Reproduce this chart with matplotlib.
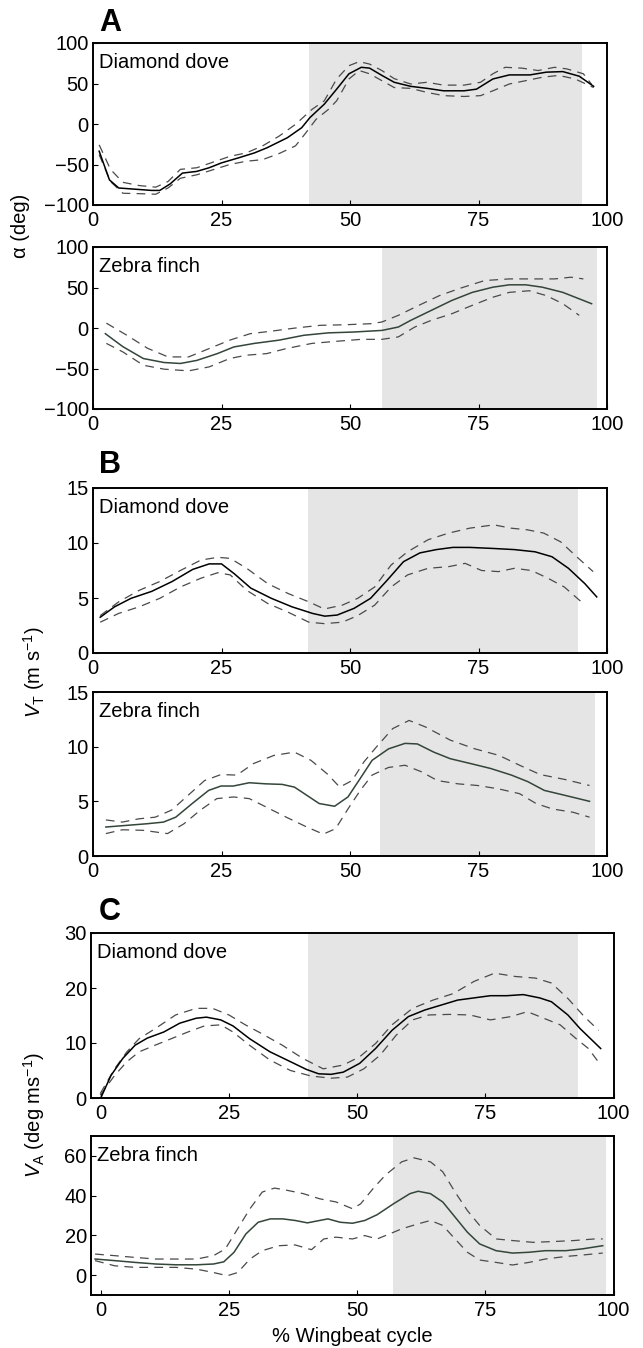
import matplotlib
matplotlib.use("Agg")
import matplotlib.pyplot as plt

plt.rcParams['font.family'] = ['Liberation Sans', 'DejaVu Sans']
plt.rcParams['mathtext.fontset'] = 'custom'
plt.rcParams['mathtext.rm'] = 'Liberation Sans'
plt.rcParams['mathtext.it'] = 'Liberation Sans:italic'

# ---- A: angle of attack (deg) ----
# Diamond dove
a_dd_x_mean = [1.2, 3.2, 5, 8.2, 11.4, 13, 15, 17.4, 20.2, 22.6, 25, 28.2, 31.4, 33.8, 37.8, 40.6, 42.2, 45,
               47.4, 49.8, 52.2, 53.8, 56.2, 58.6, 61.8, 65, 68.2, 72.2, 74.6, 77.8, 81, 85, 88.2, 91.4, 94.6, 97.4]
a_dd_mean = [-33.6, -69, -79, -80.5, -82, -82, -74, -60.6, -58.5, -54, -48, -42, -35.7, -29.5, -17, -4.6, 7.9, 24.5,
             43, 62, 70, 69, 60, 51.5, 46.5, 44, 41, 41, 43, 55.6, 60.6, 60.6, 64, 64.7, 59, 46.5]
a_dd_x_up = [1.2, 3.4, 5.8, 9, 12.2, 14.6, 17, 20.2, 23.4, 26.6, 29.8, 33, 36.2, 39.4, 42.6, 45, 47.4, 49.8,
             51.8, 53.8, 56.2, 58.6, 61.8, 65, 68.2, 72.2, 75.4, 77.8, 80.2, 83.4, 86.6, 89.8, 92.2, 95.4, 97]
a_dd_up = [-25.7, -56, -72, -76, -78, -71, -56, -54, -47, -40, -35.7, -27, -15, -0.4, 18, 28.6, 55.6, 72,
           77, 74, 66, 56, 49.4, 51.5, 48, 48, 51.5, 62, 70, 69, 66, 70, 68, 62, 49]
a_dd_x_lo = [1.2, 3.4, 5.8, 9, 12.2, 14.6, 17, 20.2, 23.4, 26.6, 29.8, 33, 36.2, 39.4, 41.4, 43.4, 45.8, 47.4,
             49.8, 51.8, 53.8, 56.2, 58.6, 61.8, 65, 68.2, 72.2, 75.4, 77.8, 81, 84.2, 87.4, 90.6, 93.8, 97.4]
a_dd_lo = [-37.8, -71, -85.5, -86, -86.7, -79, -67, -62.7, -56.4, -50, -46, -44, -36.5, -27, -11, 5.8, 18, 28.6,
           55.6, 66, 62, 53.5, 45, 44, 39, 35, 34, 35, 41, 49.4, 53.5, 57.7, 60, 55.6, 45]
# Zebra finch
a_zf_x_mean = [2.4, 5.8, 9.8, 13.8, 17, 20.2, 24.2, 27.4, 31.4, 36.2, 41, 45.8, 50.6, 56.2, 59.4, 61.8,
               65.8, 69.8, 73.8, 77.8, 81, 84.2, 87.4, 91.4, 95.4, 97]
a_zf_mean = [-7, -23, -37.7, -42.6, -43.8, -40, -31.6, -23.4, -19, -15, -9, -6, -5, -3, 1.2, 9.4,
             21.7, 34, 44, 50.4, 53.3, 53.3, 50.4, 44, 34, 30]
a_zf_x_up = [2.6, 6.6, 10.6, 14.6, 18.6, 22.6, 26.6, 30.6, 34.6, 39.4, 44.2, 49, 54, 56.2, 59.4, 63.4,
             67.4, 71.4, 76.2, 81, 85.8, 89.8, 93, 95.4]
a_zf_up = [6, -9, -25, -35.7, -35.7, -25.4, -15, -7, -4, 0, 3.3, 4, 5.3, 7.4, 15.6, 28,
           40, 49, 58.6, 60.6, 60.6, 60.6, 62.7, 60.6]
a_zf_x_lo = [2.6, 5.8, 9.8, 13.8, 18.6, 22.6, 26.6, 29.8, 33.8, 37.6, 42.6, 47.4, 52.2, 56.2, 59.4, 62.6,
             65.8, 69.8, 73.8, 77.8, 81, 84.9, 88.2, 91.4, 94.6]
a_zf_lo = [-19, -29.5, -46, -50.8, -52.9, -48, -37.7, -33.6, -31.6, -25.4, -19, -16.4, -14, -14, -11, 1.2,
           9.4, 17.6, 28, 38, 44, 46, 40, 30, 15.6]

# ---- B: wingtip velocity (m/s) ----
b_dd_x_mean = [1.4, 4.2, 7.4, 11.4, 15.4, 19.4, 22.6, 25, 27.5, 30.7, 34.7, 38.7, 42.7, 45.1, 47.5, 50.8, 54,
               57.2, 60.4, 63.6, 66.8, 70, 73.3, 78, 82, 86, 89.3, 92.5, 95.7, 98]
b_dd_mean = [3.25, 4.2, 4.97, 5.6, 6.5, 7.6, 8.1, 8.1, 7.2, 5.9, 4.97, 4.2, 3.6, 3.35, 3.45, 4.06, 4.97,
             6.6, 8.3, 9.1, 9.4, 9.6, 9.6, 9.5, 9.4, 9.2, 8.75, 7.7, 6.3, 5.1]
b_dd_x_up = [1.4, 5, 9, 13, 17, 21, 24.3, 26.7, 29.9, 34, 38, 42, 45, 48.5, 51.5, 54.8, 58, 61.2, 65.2,
             69.2, 73.3, 78, 81.3, 84.5, 87.7, 91, 94.1, 97.3]
b_dd_up = [3.4, 4.65, 5.7, 6.5, 7.5, 8.45, 8.7, 8.6, 7.7, 6.3, 5.4, 4.65, 4.0, 4.35, 4.97, 6.0, 8.0, 9.2, 10.3,
           10.9, 11.35, 11.65, 11.35, 11.2, 10.9, 10.1, 8.75, 7.4]
b_dd_x_lo = [1.4, 5, 9, 13, 17, 21, 24.3, 26.7, 29.9, 34, 38, 42, 45, 48.5, 51.5, 54.8, 58, 61.2, 65.2,
             69.2, 72.4, 75.6, 78.9, 82, 85.3, 88.5, 91.7, 95]
b_dd_lo = [2.8, 3.6, 4.2, 4.97, 6.0, 6.8, 7.3, 7.1, 5.7, 4.5, 3.7, 2.8, 2.67, 2.8, 3.4, 4.35, 6.0, 7.1, 7.7,
           7.85, 8.15, 7.5, 7.4, 7.7, 7.5, 6.8, 6.0, 4.65]
b_zf_x_mean = [2.5, 6.5, 10.5, 13.7, 16.1, 19.3, 22.5, 24.9, 27.3, 30.4, 33.6, 36.8, 39.2, 41.6, 44, 47, 49.6,
               52, 54.3, 57.5, 60.7, 63.1, 66.3, 69.5, 73.5, 77.4, 81.4, 84.6, 87.8, 91.8, 96.6]
b_zf_mean = [2.65, 2.8, 2.95, 3.1, 3.55, 4.8, 6.0, 6.4, 6.4, 6.7, 6.6, 6.55, 6.3, 5.55, 4.8, 4.55, 5.4,
             7.1, 8.75, 9.8, 10.3, 10.25, 9.5, 8.9, 8.45, 8.0, 7.4, 6.8, 6.0, 5.55, 5.0]
b_zf_x_up = [2.5, 5.7, 8.9, 12.1, 15.3, 18.5, 21.7, 24.9, 28, 31.2, 35.2, 39.2, 42.4, 45.6, 48, 50.4, 52.7,
             55.1, 58.3, 61.5, 64.7, 69.5, 74.3, 79, 83, 87, 91.8, 96.6]
b_zf_up = [3.3, 3.1, 3.4, 3.55, 4.2, 5.55, 6.9, 7.45, 7.4, 8.45, 9.2, 9.5, 8.75, 7.5, 6.3, 6.9, 8.6,
           9.95, 11.65, 12.4, 11.8, 10.6, 9.8, 9.2, 8.3, 7.45, 7.0, 6.45]
b_zf_x_lo = [2.5, 5.7, 9.7, 14.5, 17.7, 20.9, 24.1, 27.3, 30.4, 33.6, 37.6, 41.6, 44.8, 47.2, 49.6, 52, 54.3,
             57.5, 60.7, 63.9, 67, 71, 74.8, 78.8, 83, 86.2, 89.4, 93.4, 96.6]
b_zf_lo = [2.05, 2.4, 2.35, 2.05, 2.95, 4.2, 5.25, 5.4, 5.25, 4.5, 3.55, 2.65, 2.0, 2.5, 4.3, 6.0, 7.4,
           8.1, 8.3, 7.7, 6.9, 6.6, 6.45, 6.15, 5.7, 4.8, 4.3, 4.0, 3.55]

# ---- C: angular velocity (deg/ms) ----
c_dd_x_mean = [0, 2, 4.3, 6.7, 9.1, 12.3, 15.4, 18.6, 20.6, 23.4, 25.8, 29, 33, 37, 40.1, 42.5, 44.9, 47.3,
               50.5, 53.6, 56.8, 60, 63.2, 66.4, 69.6, 72.8, 76, 79.2, 82.4, 85.6, 87.9, 91.1, 93.5, 97.5]
c_dd_mean = [0, 4.1, 7.2, 9.6, 10.9, 12.0, 13.6, 14.5, 14.7, 14.2, 13.1, 10.8, 8.4, 6.6, 5.2, 4.4, 4.3, 4.7,
             6.3, 9.0, 12.3, 14.8, 16.0, 16.9, 17.8, 18.2, 18.6, 18.6, 18.8, 18.2, 17.5, 15.1, 12.6, 9.0]
c_dd_x_up = [-0.1, 2.7, 5.1, 7.5, 10.6, 14.6, 18.6, 21.8, 25, 28.2, 31.4, 35.4, 39.4, 43.4, 47.3, 50.5, 53.6,
             56.8, 60.8, 64.8, 68.8, 72.8, 76.8, 80.8, 84.8, 87.9, 91.1, 94.3, 97.1]
c_dd_up = [0.8, 5.3, 8.4, 10.8, 12.6, 15.1, 16.3, 16.3, 15.1, 13.3, 11.7, 9.6, 7.2, 5.3, 6.0, 7.5, 9.9,
           13.3, 16.3, 17.8, 19.0, 21.2, 22.7, 22.1, 21.8, 20.9, 18.1, 14.8, 12.3]
c_dd_x_lo = [-0.1, 2.7, 5.1, 7.5, 10.6, 13.8, 17, 20.2, 23.4, 25.8, 29, 33, 37, 41, 44.9, 48.1, 51.3, 54.5,
             57.6, 60.8, 64, 68, 72, 76, 80, 83.2, 86.4, 89.6, 92.7, 95.1, 97.5]
c_dd_lo = [0.5, 4.1, 6.6, 8.4, 9.6, 10.8, 12.0, 13.1, 13.3, 12.0, 9.6, 6.9, 5.0, 4.0, 3.6, 3.8, 5.3, 7.8,
           11.4, 14.2, 15.1, 15.2, 15.1, 14.2, 14.8, 15.7, 14.5, 13.3, 10.8, 9.0, 6.0]
c_zf_x_mean = [-1.1, 2.7, 6.7, 10.7, 14.7, 18.7, 22, 24, 26, 28.3, 30.7, 33.1, 35.5, 37.9, 40.3, 42.7, 44.3,
               46.7, 49.1, 51.5, 53.9, 57.1, 60.3, 61.9, 64.3, 66.7, 69.1, 71.5, 73.9, 77.1, 80.3, 83.5,
               86.7, 90.7, 93.9, 97.9]
c_zf_mean = [8.1, 7.3, 6.4, 5.6, 5.2, 5.2, 5.6, 6.7, 11.5, 20.7, 26.6, 28.3, 28.3, 27.5, 26.3, 27.5, 28.3,
             26.6, 26.1, 27.5, 30.4, 35.9, 41, 42.2, 41, 36.8, 29.2, 21.6, 15.7, 12.3, 11.1, 11.5,
             12.3, 12.3, 13.2, 14.8]
c_zf_x_up = [-1.1, 2.7, 6.7, 10.7, 14.7, 18.7, 22, 24.3, 26.7, 29.1, 31.5, 33.9, 36.3, 39.5, 42.7, 45.9, 49.1,
             50.7, 53.1, 55.5, 58.7, 61.1, 64.3, 66.7, 69.1, 71.5, 73.9, 77.1, 80.3, 84.3, 88.3, 92.3,
             96.3, 97.9]
c_zf_up = [10.6, 9.8, 8.9, 8.1, 8.1, 8.1, 9.8, 13.2, 23.3, 33.4, 41.8, 43.8, 42.7, 41, 38.4, 36.8, 33.4,
           35.9, 43.5, 50.3, 57, 59, 57, 52, 41.8, 32.5, 25, 18.2, 17.4, 16.5, 16.9, 17.4,
           18.2, 18.2]
c_zf_x_lo = [-1.1, 2.7, 6.7, 10.7, 14.7, 18.7, 22, 24.7, 26.7, 29.1, 31.5, 34.7, 37.9, 41.1, 43.5, 45.9, 49.1,
             51.5, 53.9, 56.3, 58.7, 61.9, 64.3, 66.7, 69.1, 71.5, 73.9, 77.1, 80.3, 83.5, 86.7, 90.7,
             93.9, 97.9]
c_zf_lo = [7.3, 4.7, 3.9, 3.9, 3.9, 3.0, 1.3, -0.3, 1.3, 8.1, 12.3, 14.8, 15.2, 12.8, 18.2, 19.1, 18.2,
           19.9, 18.2, 20.7, 23.3, 25.8, 27.5, 25, 18.2, 11.5, 7.6, 6.4, 5.1, 6.4, 8.1, 9.4,
           10.1, 11.1]

# upstroke shading (start, end) in % wingbeat
shade = [(42.1, 95.2), (56.2, 98.0), (41.8, 94.4), (55.9, 97.6), (40.4, 93.0), (56.9, 98.6)]

W, H = 643, 1348
fig = plt.figure(figsize=(W / 100, H / 100), dpi=100)

# (left, top, right, bottom) in pixels for each panel
boxes = [(93, 43, 607, 205), (93, 247, 607, 409),
         (93, 488, 607, 653), (93, 692, 607, 856),
         (91, 933, 613.5, 1098), (91, 1136, 613.5, 1295)]

panels = [
    (a_dd_x_mean, a_dd_mean, a_dd_x_up, a_dd_up, a_dd_x_lo, a_dd_lo, "Diamond dove"),
    (a_zf_x_mean, a_zf_mean, a_zf_x_up, a_zf_up, a_zf_x_lo, a_zf_lo, "Zebra finch"),
    (b_dd_x_mean, b_dd_mean, b_dd_x_up, b_dd_up, b_dd_x_lo, b_dd_lo, "Diamond dove"),
    (b_zf_x_mean, b_zf_mean, b_zf_x_up, b_zf_up, b_zf_x_lo, b_zf_lo, "Zebra finch"),
    (c_dd_x_mean, c_dd_mean, c_dd_x_up, c_dd_up, c_dd_x_lo, c_dd_lo, "Diamond dove"),
    (c_zf_x_mean, c_zf_mean, c_zf_x_up, c_zf_up, c_zf_x_lo, c_zf_lo, "Zebra finch"),
]
ylims = [(-100, 100), (-100, 100), (0, 15), (0, 15), (0, 30), (-10, 70)]
yticks = [[-100, -50, 0, 50, 100], [-100, -50, 0, 50, 100], [0, 5, 10, 15], [0, 5, 10, 15],
          [0, 10, 20, 30], [0, 20, 40, 60]]

axes = []
for i, (box, p) in enumerate(zip(boxes, panels)):
    l, t, r, b = box
    ax = fig.add_axes([l / W, 1 - b / H, (r - l) / W, (b - t) / H])
    axes.append(ax)
    xm, ym, xu, yu, xl, yl, name = p
    zebra = name == "Zebra finch"
    solid_col = '#34453a' if zebra else 'black'
    ax.axvspan(shade[i][0], shade[i][1], color='#e5e5e5', lw=0, zorder=0)
    ax.plot(xu, yu, color='#4a4a4a', lw=0.9, dashes=(7, 5))
    ax.plot(xl, yl, color='#4a4a4a', lw=0.9, dashes=(7, 5))
    ax.plot(xm, ym, color=solid_col, lw=1.1)
    ax.set_xlim(-1.9 if i >= 4 else 0, 100)
    ax.set_ylim(*ylims[i])
    ax.set_xticks([0, 25, 50, 75, 100])
    ax.set_yticks(yticks[i])
    ax.tick_params(direction='in', length=3.5, width=0.8, labelsize=14.5,
                   top=False, right=False)
    ax.tick_params(axis='x', pad=4)
    ax.tick_params(axis='y', pad=3)
    for s in ax.spines.values():
        s.set_linewidth(1.4)
    ax.text(0.011, 0.88, name, transform=ax.transAxes, fontsize=14.5, ha='left', va='center')

# panel letters
for letter, y in [("A", 23), ("B", 465), ("C", 912)]:
    fig.text(110 / W, 1 - y / H, letter, fontsize=22, fontweight='bold', ha='center', va='center')

# axis labels
fig.text(21 / W, 1 - 226 / H, 'α (deg)', rotation=90, fontsize=14.5, ha='center', va='center')
fig.text(34 / W, 1 - 672 / H, r'$V_{\mathrm{T}}$ (m s$^{-1}$)', rotation=90, fontsize=14.5,
         ha='center', va='center')
fig.text(34 / W, 1 - 1115 / H, r'$V_{\mathrm{A}}$ (deg ms$^{-1}$)', rotation=90, fontsize=14.5,
         ha='center', va='center')
fig.text(352 / W, 1 - 1336 / H, '% Wingbeat cycle', fontsize=14.5, ha='center', va='center')

fig.savefig("out.png", dpi=100)
